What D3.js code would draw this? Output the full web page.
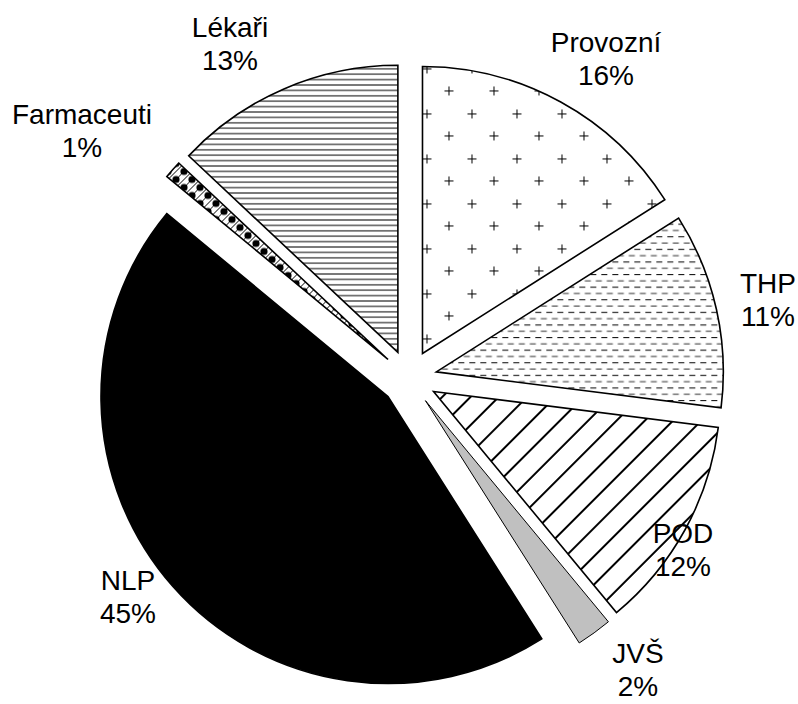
<!DOCTYPE html>
<html>
<head>
<meta charset="utf-8">
<script src="https://cdn.jsdelivr.net/npm/d3@7"></script>
<style>
  body { margin: 0; background: #fff; }
  text { font-family: "Liberation Sans", Arial, sans-serif; font-size: 28px; fill: #000; }
</style>
</head>
<body>
<script>
// categories and shares, clockwise from 12 o'clock
let categories = ["Provozní", "THP", "POD", "JVŠ", "NLP", "Farmaceuti", "Lékaři"];
let values = [16, 11, 12, 2, 45, 1, 13];
let pctLabels = ["16%", "11%", "12%", "2%", "45%", "1%", "13%"];

// label anchor points (layout only)
let labelPos = [
  [606, 52], [768, 293], [683, 543], [638, 663], [128, 590], [82, 124], [230, 37]
];

let width = 798, height = 704;
let cx = 409, cy = 378, radius = 287, explode = 28;

let svg = d3.select("body")
  .append("svg")
  .attr("width", width)
  .attr("height", height);

let defs = svg.append("defs");

// Provozní: small plus signs
let pPlus = defs.append("pattern")
  .attr("id", "plus")
  .attr("patternUnits", "userSpaceOnUse")
  .attr("width", 45).attr("height", 45)
  .attr("x", 4).attr("y", 30);
pPlus.append("rect").attr("width", 45).attr("height", 45).attr("fill", "#fff");
[[22.5, 22.5], [0, 0], [45, 0], [0, 45], [45, 45]].forEach(([x, y]) => {
  pPlus.append("path")
    .attr("d", `M${x - 4.5},${y}H${x + 4.5}M${x},${y - 4.5}V${y + 4.5}`)
    .attr("stroke", "#000").attr("stroke-width", 1)
    .attr("shape-rendering", "crispEdges");
});

// THP: dashed horizontal rows
let pDash = defs.append("pattern")
  .attr("id", "dash")
  .attr("patternUnits", "userSpaceOnUse")
  .attr("width", 11).attr("height", 12.6);
pDash.append("rect").attr("width", 11).attr("height", 12.6).attr("fill", "#fff");
pDash.append("path").attr("d", "M0,3.5H6").attr("stroke", "#000").attr("stroke-width", 1);
pDash.append("path").attr("d", "M5.5,9.8H11.5M-0.5,9.8H0.5").attr("stroke", "#555").attr("stroke-width", 1);

// POD: wide diagonal lines
let pDiag = defs.append("pattern")
  .attr("id", "diag")
  .attr("patternUnits", "userSpaceOnUse")
  .attr("width", 20).attr("height", 20)
  .attr("patternTransform", "rotate(45)");
pDiag.append("rect").attr("width", 20).attr("height", 20).attr("fill", "#fff");
pDiag.append("line").attr("x1", 10).attr("y1", 0).attr("x2", 10).attr("y2", 20)
  .attr("stroke", "#000").attr("stroke-width", 2);

// Farmaceuti: hatch with dots
let pDots = defs.append("pattern")
  .attr("id", "dots")
  .attr("patternUnits", "userSpaceOnUse")
  .attr("width", 16).attr("height", 16);
pDots.append("rect").attr("width", 16).attr("height", 16).attr("fill", "#fff");
pDots.append("path")
  .attr("d", "M0,8L8,0M0,16L16,0M8,16L16,8")
  .attr("stroke", "#000").attr("stroke-width", 1);
pDots.append("circle").attr("cx", 4).attr("cy", 4).attr("r", 3.6).attr("fill", "#000");
pDots.append("circle").attr("cx", 12).attr("cy", 12).attr("r", 3.6).attr("fill", "#000");

// Lékaři: thin horizontal lines
let pHoriz = defs.append("pattern")
  .attr("id", "horiz")
  .attr("patternUnits", "userSpaceOnUse")
  .attr("width", 10).attr("height", 5.4);
pHoriz.append("rect").attr("width", 10).attr("height", 5.4).attr("fill", "#fff");
pHoriz.append("line").attr("x1", 0).attr("y1", 2.7).attr("x2", 10).attr("y2", 2.7)
  .attr("stroke", "#000").attr("stroke-width", 1);

let fills = ["url(#plus)", "url(#dash)", "url(#diag)", "#c0c0c0", "#000", "url(#dots)", "url(#horiz)"];

let pie = d3.pie().sort(null).value(d => d)(values);
let arc = d3.arc().innerRadius(0).outerRadius(radius);

let g = svg.append("g").attr("transform", `translate(${cx},${cy})`);

g.selectAll("path.slice")
  .data(pie)
  .join("path")
  .attr("class", "slice")
  .attr("transform", d => {
    let mid = (d.startAngle + d.endAngle) / 2;
    return `translate(${explode * Math.sin(mid)},${-explode * Math.cos(mid)})`;
  })
  .attr("d", arc)
  .attr("fill", (d, i) => fills[i])
  .attr("stroke", "#000")
  .attr("stroke-width", (d, i) => (i === 3 ? 1 : 1.6))
  .attr("stroke-linejoin", "miter");

// Labels
let labels = svg.append("g").attr("text-anchor", "middle");
categories.forEach((c, i) => {
  let t = labels.append("text")
    .attr("x", labelPos[i][0])
    .attr("y", labelPos[i][1]);
  t.append("tspan").attr("x", labelPos[i][0]).text(c);
  t.append("tspan").attr("x", labelPos[i][0]).attr("dy", 33).text(pctLabels[i]);
});
</script>
</body>
</html>
